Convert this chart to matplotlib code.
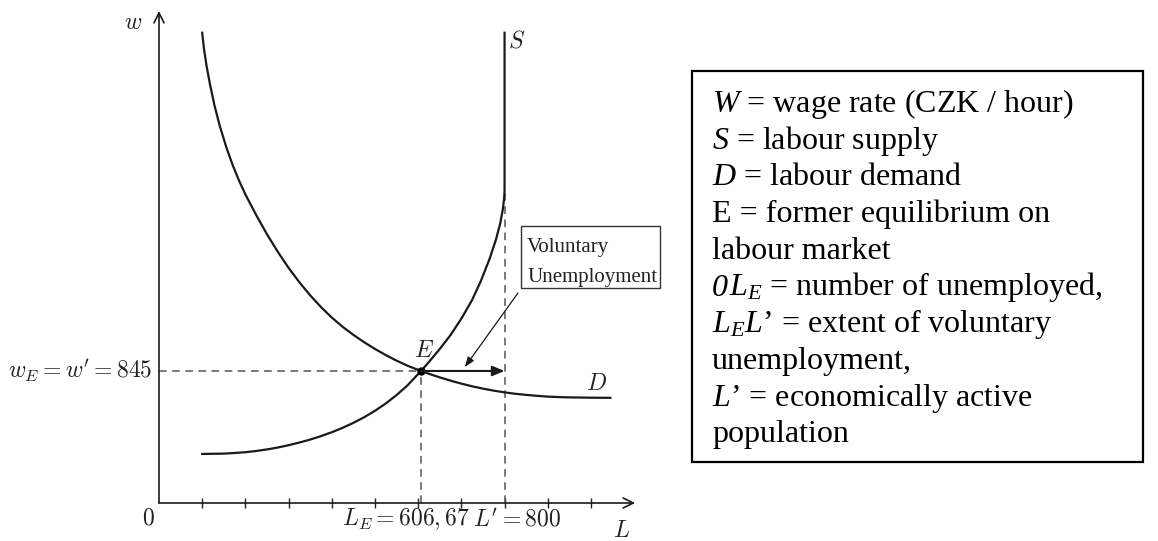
import matplotlib
matplotlib.use("Agg")
import matplotlib.pyplot as plt
from matplotlib.patches import Rectangle

plt.rcParams['mathtext.fontset'] = 'custom'
plt.rcParams['mathtext.it'] = 'Liberation Serif:italic'
plt.rcParams['mathtext.rm'] = 'Liberation Serif'

# labour market values (L = workers, w = CZK / hour)
L_E = 606.67
L_prime = 800
w_E = 845
L_ticks = [100, 200, 300, 400, 500, 600, 700, 800, 900, 1000]

supply_L = [100, 125, 150, 175, 200, 225, 250, 275, 300, 325, 350, 375, 400, 425, 450, 475, 500, 525,
            550, 575, 606.67, 625, 650, 675, 700, 725, 745, 765, 780, 790, 796, 799, 800, 800]
supply_w = [314, 315, 316, 320, 325, 333, 343, 355, 370, 387, 406, 428, 453, 481, 513, 549, 590, 637,
            691, 752, 845, 903, 986, 1075, 1180, 1300, 1420, 1560, 1685, 1790, 1880, 1950, 2000, 3010]

demand_L = [100, 104, 110, 118, 128, 140, 155, 170, 185, 200, 225, 250, 275, 300, 325, 350, 375, 400,
            425, 450, 475, 500, 525, 550, 575, 606.67, 625, 650, 675, 700, 725, 750, 775, 800, 825,
            850, 875, 900, 925, 950, 1000, 1045]
demand_w = [3010, 2910, 2800, 2680, 2550, 2420, 2284, 2167, 2065, 1975, 1843, 1720, 1608, 1505, 1413,
            1329, 1254, 1187, 1128, 1076, 1029, 986, 947, 911, 879, 845, 827, 804, 783, 764, 747, 732,
            719, 708, 699, 692, 686, 681, 678, 676, 674, 673]

# (italic prefix, rest of row)
legend_rows = [
    ("", r"$W$ = wage rate (CZK / hour)"),
    ("", r"$S$ = labour supply"),
    ("", r"$D$ = labour demand"),
    ("", "E = former equilibrium on"),
    ("", "labour market"),
    ("0", r"$L_E$ = number of unemployed,"),
    ("", r"$L_EL$’ = extent of voluntary"),
    ("", "unemployment,"),
    ("", r"$L$’ = economically active"),
    ("", "population"),
]

W, H = 1158, 541
fig = plt.figure(figsize=(W / 100, H / 100), dpi=100)
ax = fig.add_axes([159 / W, 38 / H, 476 / W, 492 / H])
ax.set_xlim(0, 1102)
ax.set_ylim(0, 3149)
for s in ax.spines.values():
    s.set_visible(False)
ax.set_xticks(L_ticks)
ax.set_yticks([])
ax.tick_params(axis='x', direction='inout', length=7, width=1.0, color='#222', labelbottom=False)

ink = '#1a1a1a'
# axes with open arrow heads
ax.annotate('', xy=(1102, 0), xytext=(0, 0), annotation_clip=False,
            arrowprops=dict(arrowstyle='->', lw=1.2, color=ink, mutation_scale=18, shrinkA=0, shrinkB=0))
ax.annotate('', xy=(0, 3149), xytext=(0, 0), annotation_clip=False,
            arrowprops=dict(arrowstyle='->', lw=1.2, color=ink, mutation_scale=18, shrinkA=0, shrinkB=0))

# dashed guide lines
dash = dict(color='#555', lw=1.1, linestyle=(0, (5, 3.6)))
ax.plot([0, L_E], [w_E, w_E], **dash)
ax.plot([L_E, L_E], [0, w_E], **dash)
ax.plot([L_prime, L_prime], [0, supply_w[-2]], **dash)

# curves
ax.plot(supply_L, supply_w, color=ink, lw=1.6, solid_joinstyle='round')
ax.plot(demand_L, demand_w, color=ink, lw=1.6, solid_joinstyle='round')
ax.plot([L_E], [w_E], 'o', color='black', ms=5)

# arrow E -> L'
ax.annotate('', xy=(L_prime, w_E), xytext=(L_E, w_E),
            arrowprops=dict(arrowstyle='-|>,head_length=0.6,head_width=0.25', lw=1.5,
                            color=ink, mutation_scale=12, shrinkA=0, shrinkB=0))

# Voluntary Unemployment box and pointer
ax.add_patch(Rectangle((838, 1376), 322, 397, fill=False, lw=1.0, ec='#333', clip_on=False))
ax.text(852, 1606, "Voluntary", family='Liberation Serif', fontsize=15, color='#222', va='baseline')
ax.text(852, 1414, "Unemployment", family='Liberation Serif', fontsize=15, color='#222', va='baseline')
ax.annotate('', xy=(708, 870), xytext=(831, 1344),
            arrowprops=dict(arrowstyle='-|>,head_length=0.6,head_width=0.22', lw=0.9,
                            color=ink, mutation_scale=10, shrinkA=0, shrinkB=0))

# chart labels (LaTeX look)
cm = dict(math_fontfamily='cm', fontsize=17, color='#222')
ax.text(-60, 3078, r"$w$", ha='center', va='center', **cm)
ax.text(1072, -170, r"$L$", ha='center', va='center', clip_on=False, **cm)
ax.text(829, 2963, r"$S$", ha='center', va='center', **cm)
ax.text(1014, 768, r"$D$", ha='center', va='center', **cm)
ax.text(613, 979, r"$E$", ha='center', va='center', **cm)
ax.text(-25, -90, r"$0$", ha='center', va='center', clip_on=False, **cm)
ax.text(-16, w_E, r"$w_E = w' = 845$", ha='right', va='center', **cm)
ax.text(L_E + 113, -102, r"$L_E = 606,67$", ha='right', va='center', **cm)
ax.text(L_prime + 29, -102, r"$L' = 800$", ha='center', va='center', **cm)

# legend box on the right
fig.add_artist(Rectangle((692 / W, (H - 462) / H), (1143 - 692) / W, (462 - 71) / H,
                         transform=fig.transFigure, fill=False, lw=1.6, ec='black'))
renderer = fig.canvas.get_renderer()
serif = dict(family='Liberation Serif', fontsize=23, va='baseline', ha='left', color='black')
for k, (pre, row) in enumerate(legend_rows):
    x = 712
    y = (H - (112 + 36.7 * k)) / H
    if pre:
        t = fig.text(x / W, y, pre, style='italic', **serif)
        x = t.get_window_extent(renderer).x1 + 1
    fig.text(x / W, y, row, **serif)

fig.savefig('out.png', dpi=100)
